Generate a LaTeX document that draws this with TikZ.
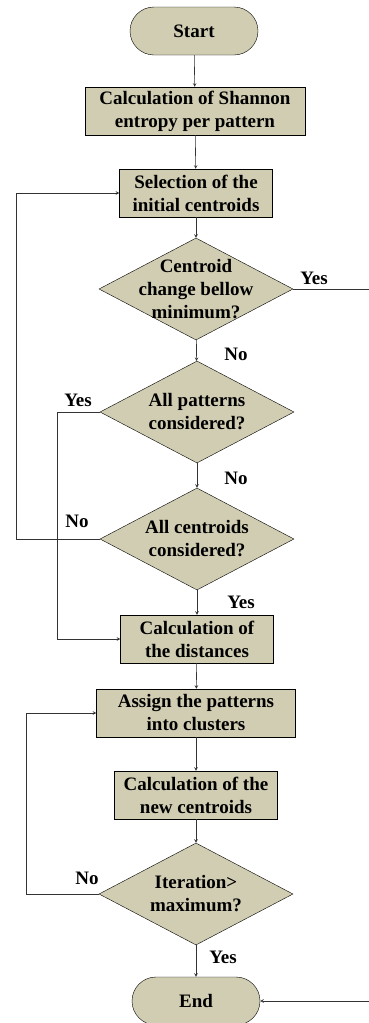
\documentclass[tikz,border=0pt]{standalone}
\usepackage{fontspec}
\setmainfont{Liberation Serif}
\usetikzlibrary{shapes.geometric}
\definecolor{Sable}{RGB}{209,205,178}
\newcommand{\PoliceFlux}{\fontsize{19}{23}\selectfont\bfseries}

\begin{document}
\begin{tikzpicture}[x=1pt,y=-1pt,>=stealth]
    \tikzset{EtapeStyle/.style    =   {draw,fill=Sable,rectangle,minimum height=48pt,minimum width=#1,inner sep=0pt,align=center,font=\PoliceFlux}}
    \tikzset{BorneStyle/.style    =   {draw,fill=Sable,rectangle,rounded corners=24pt,minimum height=48pt,minimum width=128pt,font=\PoliceFlux}}
    \tikzset{TestStyle/.style     =   {draw,fill=Sable,diamond,minimum width=194pt,minimum height=102pt,inner sep=0pt}}
    \tikzset{TexteStyle/.style    =   {align=center,inner sep=0pt,font=\PoliceFlux}}
    \tikzset{FlecheStyle/.style   =   {->,line width=.6pt,color=black!80}}

    \useasboundingbox (0,0) rectangle (368,1023);

    % etapes
    \node[BorneStyle]       (debut)  at (194,31)   {Start};
    \node[EtapeStyle=220pt] (shan)   at (195,111)  {Calculation of Shannon\\entropy per pattern};
    \node[EtapeStyle=153pt] (select) at (196,193)  {Selection of the\\initial centroids};
    \node[TestStyle]        (test1)  at (196,289)  {};
    \node[TexteStyle]       (txt1)   at (test1)    {Centroid\\change bellow\\minimum?};
    \node[TestStyle]        (test2)  at (197,412)  {};
    \node[TexteStyle]       (txt2)   at (test2)    {All patterns\\considered?};
    \node[TestStyle]        (test3)  at (197,539)  {};
    \node[TexteStyle]       (txt3)   at (test3)    {All centroids\\considered?};
    \node[EtapeStyle=153pt] (dist)   at (197,639)  {Calculation of\\the distances};
    \node[EtapeStyle=199pt] (assign) at (196,713)  {Assign the patterns\\into clusters};
    \node[EtapeStyle=163pt] (newc)   at (196,795)  {Calculation of the\\new centroids};
    \node[TestStyle]        (test4)  at (196,894)  {};
    \node[TexteStyle]       (txt4)   at (test4)    {Iteration>\\maximum?};
    \node[BorneStyle]       (fin)    at (196,1001) {End};

    % oui / non
    \node[TexteStyle] (oui1) at (314,278) {Yes};
    \node[TexteStyle] (non1) at (236,354) {No};
    \node[TexteStyle] (oui2) at (78,400)  {Yes};
    \node[TexteStyle] (non2) at (236,478) {No};
    \node[TexteStyle] (non3) at (77,521)  {No};
    \node[TexteStyle] (oui3) at (241,602) {Yes};
    \node[TexteStyle] (non4) at (87,878)  {No};
    \node[TexteStyle] (oui4) at (223,957) {Yes};

    \draw[FlecheStyle] (debut)  -- (shan);
    \draw[FlecheStyle] (shan)   -- (select);
    \draw[FlecheStyle] (select) -- (test1);
    \draw[FlecheStyle] (test1)  -- (test2);
    \draw[FlecheStyle] (test2)  -- (test3);
    \draw[FlecheStyle] (test3)  -- (dist);
    \draw[FlecheStyle] (dist)   -- (assign);
    \draw[FlecheStyle] (assign) -- (newc);
    \draw[FlecheStyle] (newc)   -- (test4);
    \draw[FlecheStyle] (test4)  -- (fin);
    % boucles
    \draw[FlecheStyle] (test1.east) -- ++(90,0) |- (fin.east);
    \draw[FlecheStyle] (test2.west) -- ++(-43,0) |- (dist.west);
    \draw[FlecheStyle] (test3.west) -- ++(-84,0) |- (select.west);
    \draw[FlecheStyle] (test4.west) -- ++(-73,0) |- (assign.west);
\end{tikzpicture}
\end{document}
